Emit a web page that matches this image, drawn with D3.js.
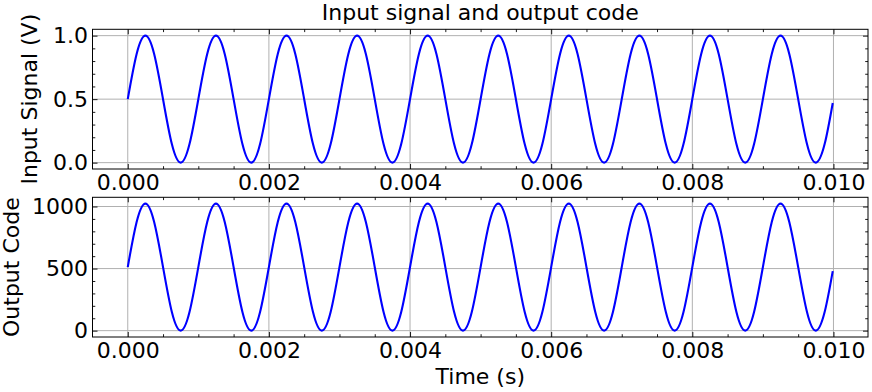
<!DOCTYPE html>
<html><head><meta charset="utf-8">
<script src="https://cdn.jsdelivr.net/npm/d3@7"></script>
<style>
body{margin:0;background:#fff}
text{font-family:"DejaVu Sans",sans-serif;fill:#000}
</style></head><body>
<svg id="c" width="872" height="392"></svg>
<script>
// Sample times (s), read every 1/8 of a period
const time = [
0.000000,0.000125,0.000250,0.000375,0.000500,0.000625,0.000750,0.000875,
0.001000,0.001125,0.001250,0.001375,0.001500,0.001625,0.001750,0.001875,
0.002000,0.002125,0.002250,0.002375,0.002500,0.002625,0.002750,0.002875,
0.003000,0.003125,0.003250,0.003375,0.003500,0.003625,0.003750,0.003875,
0.004000,0.004125,0.004250,0.004375,0.004500,0.004625,0.004750,0.004875,
0.005000,0.005125,0.005250,0.005375,0.005500,0.005625,0.005750,0.005875,
0.006000,0.006125,0.006250,0.006375,0.006500,0.006625,0.006750,0.006875,
0.007000,0.007125,0.007250,0.007375,0.007500,0.007625,0.007750,0.007875,
0.008000,0.008125,0.008250,0.008375,0.008500,0.008625,0.008750,0.008875,
0.009000,0.009125,0.009250,0.009375,0.009500,0.009625,0.009750,0.009875,
0.009990];
const inputSignal = [
0.5,0.854,1.0,0.854,0.5,0.146,0.0,0.146,
0.5,0.854,1.0,0.854,0.5,0.146,0.0,0.146,
0.5,0.854,1.0,0.854,0.5,0.146,0.0,0.146,
0.5,0.854,1.0,0.854,0.5,0.146,0.0,0.146,
0.5,0.854,1.0,0.854,0.5,0.146,0.0,0.146,
0.5,0.854,1.0,0.854,0.5,0.146,0.0,0.146,
0.5,0.854,1.0,0.854,0.5,0.146,0.0,0.146,
0.5,0.854,1.0,0.854,0.5,0.146,0.0,0.146,
0.5,0.854,1.0,0.854,0.5,0.146,0.0,0.146,
0.5,0.854,1.0,0.854,0.5,0.146,0.0,0.146,
0.47];
const outputCode = [
512,873,1023,873,512,150,0,150,
512,873,1023,873,512,150,0,150,
512,873,1023,873,512,150,0,150,
512,873,1023,873,512,150,0,150,
512,873,1023,873,512,150,0,150,
512,873,1023,873,512,150,0,150,
512,873,1023,873,512,150,0,150,
512,873,1023,873,512,150,0,150,
512,873,1023,873,512,150,0,150,
512,873,1023,873,512,150,0,150,
480];
const xTicks = [0.000,0.002,0.004,0.006,0.008,0.010];
const xMinorTicks = [0.0005,0.001,0.0015,0.0025,0.003,0.0035,0.0045,0.005,0.0055,0.0065,0.007,0.0075,0.0085,0.009,0.0095,0.0105,-0.0005];
const inputTicks = [0.0,0.5,1.0];
const inputMinorTicks = [0.1,0.2,0.3,0.4,0.6,0.7,0.8,0.9];
const codeTicks = [0,500,1000];
const codeMinorTicks = [100,200,300,400,600,700,800,900];
const title = "Input signal and output code";
const xLabel = "Time (s)";
const inputLabel = "Input Signal (V)";
const codeLabel = "Output Code";

const svg = d3.select("#c");
const FS = 22;
const L = 92.5, R = 868;
const x = d3.scaleLinear().domain([-0.0004995, 0.0104895]).range([L, R]);

function panel(top, bottom, yDomain, yTicks, yMinor, yFmt, ys, yLab, labX, xFmtY) {
  const y = d3.scaleLinear().domain(yDomain).range([bottom, top]);
  const g = svg.append("g");
  // grid
  g.selectAll(".gx").data(xTicks).join("line")
    .attr("x1", d => x(d)).attr("x2", d => x(d)).attr("y1", top).attr("y2", bottom)
    .attr("stroke", "#b0b0b0").attr("stroke-width", 1);
  g.selectAll(".gy").data(yTicks).join("line")
    .attr("y1", d => y(d)).attr("y2", d => y(d)).attr("x1", L).attr("x2", R)
    .attr("stroke", "#b0b0b0").attr("stroke-width", 1);
  // line
  const line = d3.line().x((d, i) => x(time[i])).y(d => y(d)).curve(d3.curveNatural);
  g.append("path").datum(ys).attr("d", line).attr("fill", "none")
    .attr("stroke", "#0000ff").attr("stroke-width", 2.1).attr("stroke-linejoin", "round");
  // axes
  const clean = s => s.call(a => a.select(".domain").remove())
                      .call(a => a.selectAll("line").attr("stroke", "#000").attr("stroke-width", 0.9));
  const xMin = xMinorTicks.filter(d => d >= x.domain()[0] && d <= x.domain()[1]);
  g.append("g").attr("transform", `translate(0,${bottom})`)
    .call(d3.axisBottom(x).tickValues(xTicks).tickSize(-5).tickPadding(5).tickFormat(d3.format(".3f")))
    .call(clean).call(a => a.selectAll("text").style("font-size", FS + "px").style("font-family", "DejaVu Sans"));
  g.append("g").attr("transform", `translate(0,${bottom})`)
    .call(d3.axisBottom(x).tickValues(xMin).tickSize(-2.8).tickFormat("")).call(clean);
  g.append("g").attr("transform", `translate(0,${top})`)
    .call(d3.axisTop(x).tickValues(xTicks).tickSize(-5).tickFormat("")).call(clean);
  g.append("g").attr("transform", `translate(0,${top})`)
    .call(d3.axisTop(x).tickValues(xMin).tickSize(-2.8).tickFormat("")).call(clean);
  g.append("g").attr("transform", `translate(${L},0)`)
    .call(d3.axisLeft(y).tickValues(yTicks).tickSize(-5).tickPadding(4.5).tickFormat(yFmt))
    .call(clean).call(a => a.selectAll("text").style("font-size", FS + "px").style("font-family", "DejaVu Sans"));
  g.append("g").attr("transform", `translate(${L},0)`)
    .call(d3.axisLeft(y).tickValues(yMinor).tickSize(-2.8).tickFormat("")).call(clean);
  g.append("g").attr("transform", `translate(${R},0)`)
    .call(d3.axisRight(y).tickValues(yTicks).tickSize(-5).tickFormat("")).call(clean);
  g.append("g").attr("transform", `translate(${R},0)`)
    .call(d3.axisRight(y).tickValues(yMinor).tickSize(-2.8).tickFormat("")).call(clean);
  // spine
  g.append("rect").attr("x", L).attr("y", top).attr("width", R - L).attr("height", bottom - top)
    .attr("fill", "none").attr("stroke", "#000").attr("stroke-width", 1);
  // y label
  g.append("text").attr("transform", `translate(${labX},${(top + bottom) / 2}) rotate(-90)`)
    .attr("text-anchor", "middle").style("font-size", FS + "px").text(yLab);
}

panel(29.3, 169, [-0.05, 1.05], inputTicks, inputMinorTicks, d3.format(".1f"), inputSignal, inputLabel, 37);
panel(197.3, 337, [-51.15, 1074.15], codeTicks, codeMinorTicks, d3.format("d"), outputCode, codeLabel, 18.5);

svg.append("text").attr("x", (L + R) / 2).attr("y", 20).attr("text-anchor", "middle")
  .style("font-size", FS + "px").text(title);
svg.append("text").attr("x", (L + R) / 2).attr("y", 384).attr("text-anchor", "middle")
  .style("font-size", FS + "px").text(xLabel);
</script>
</body></html>
